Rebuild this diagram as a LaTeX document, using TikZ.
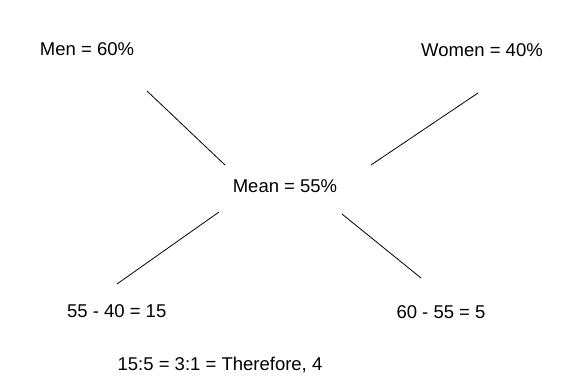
\documentclass[tikz,border=0pt]{standalone}
\usepackage{fontspec}
\setmainfont{Liberation Sans}
\tikzset{
  lbl/.style={anchor=base, inner sep=0pt, font=\fontsize{18.5}{22}\selectfont},
  spoke/.style={line width=0.8pt}
}
\begin{document}
\begin{tikzpicture}[x=1pt,y=-1pt]
    \useasboundingbox (0,0) rectangle (581,380);

    \node[lbl] (men) at (87,55) {Men = 60\%};
    \node[lbl] (women) at (482,56.5) {Women = 40\%};
    \node[lbl] (mean) at (285,192) {Mean = 55\%};
    \node[lbl] (diffl) at (116.7,317.5) {55 - 40 = 15};
    \node[lbl] (diffr) at (441,318) {60 - 55 = 5};
    \node[lbl] (ratio) at (220,370) {15:5 = 3:1 = Therefore, 4};

    \coordinate (m1) at (147,91);
    \coordinate (m2) at (225,165);
    \coordinate (w1) at (478,93);
    \coordinate (w2) at (371,165);
    \coordinate (l1) at (219,212);
    \coordinate (l2) at (117,284);
    \coordinate (r1) at (342,214);
    \coordinate (r2) at (421,278);

    \draw[spoke] (m1) -- (m2);
    \draw[spoke] (w1) -- (w2);
    \draw[spoke] (l1) -- (l2);
    \draw[spoke] (r1) -- (r2);
  \end{tikzpicture}
\end{document}
